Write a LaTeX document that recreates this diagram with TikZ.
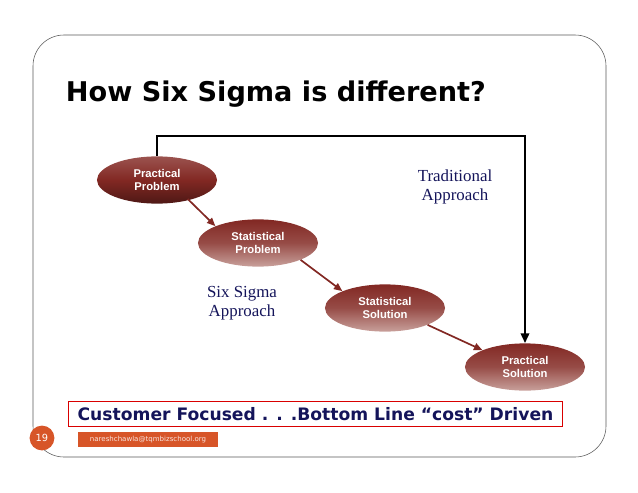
\documentclass[tikz,border=0pt]{standalone}
\usepackage{fontspec}
\setmainfont{Liberation Serif}
\setsansfont{DejaVu Sans}
\newfontfamily\arialfont{Liberation Sans}
\usetikzlibrary{shapes.geometric,arrows.meta,positioning}
\definecolor{navy}{RGB}{20,20,90}
\definecolor{darkred}{RGB}{130,40,35}
\definecolor{lightred}{RGB}{200,160,155}
\definecolor{orangebar}{RGB}{215,85,40}
\begin{document}
\begin{tikzpicture}[
    x=0.025cm, y=-0.025cm,
    stage/.style={ellipse, minimum width=3cm, minimum height=1.18cm, inner sep=0pt,
        top color=darkred, bottom color=lightred, middle color=darkred!70!lightred,
        text=white, font=\arialfont\bfseries\fontsize{8}{9.5}\selectfont, align=center},
    darkstage/.style={stage, top color=darkred!80!white, bottom color=darkred!60!black, middle color=darkred},
    flow/.style={draw=darkred, line width=1.2pt, -{Triangle[length=6pt,width=5pt]}},
    approach/.style={text=navy, font=\fontsize{12}{13.5}\selectfont, align=center}
]
\useasboundingbox (0,0) rectangle (638,493);
% slide frame
\draw[gray!70!black, rounded corners=22pt] (33,35) rectangle (606,457);
\node[anchor=west, font=\sffamily\bfseries\fontsize{19.3}{22}\selectfont] (title) at (61,94) {How Six Sigma is different?};

% ----------------------------
% Nodes
% ----------------------------
\node[darkstage] (pprob) at (157,180) {Practical\\Problem};
\node[stage] (sprob) at (258,243) {Statistical\\Problem};
\node[stage] (ssol) at (385,308) {Statistical\\Solution};
\node[stage] (psol) at (525,367) {Practical\\Solution};

\node[approach] (trad) at (455,187) {Traditional\\Approach};
\node[approach] (sixs) at (242,303) {Six Sigma\\Approach};

% ----------------------------
% Edges
% ----------------------------
\draw[line width=1.6pt, -{Triangle[length=7pt,width=6pt]}] (pprob.north) -- (157,136) -| (psol.north);
\path[flow] (pprob.south east) ++(-12,2) -- (sprob.north west);
\path[flow] (sprob.south east) -- (ssol.north west);
\path[flow] (ssol.south east) -- (psol.north west);

% footer
\node[draw=red!85!black, line width=1.2pt, minimum width=12.35cm, minimum height=0.62cm,
    text=navy, font=\sffamily\bfseries\fontsize{12.2}{14}\selectfont] (bottom) at (315.5,414)
    {Customer Focused . . .Bottom Line ``cost'' Driven};
\node[circle, fill=orangebar, minimum size=0.62cm, inner sep=0pt, text=white,
    font=\sffamily\fontsize{7}{8}\selectfont] (page) at (42,438) {19};
\node[fill=orangebar, minimum width=3.5cm, minimum height=0.37cm, inner sep=0pt, text=white!85!orangebar,
    font=\sffamily\fontsize{5}{6}\selectfont] (mail) at (148,439.5) {nareshchawla@tqmbizschool.org};
\end{tikzpicture}
\end{document}
